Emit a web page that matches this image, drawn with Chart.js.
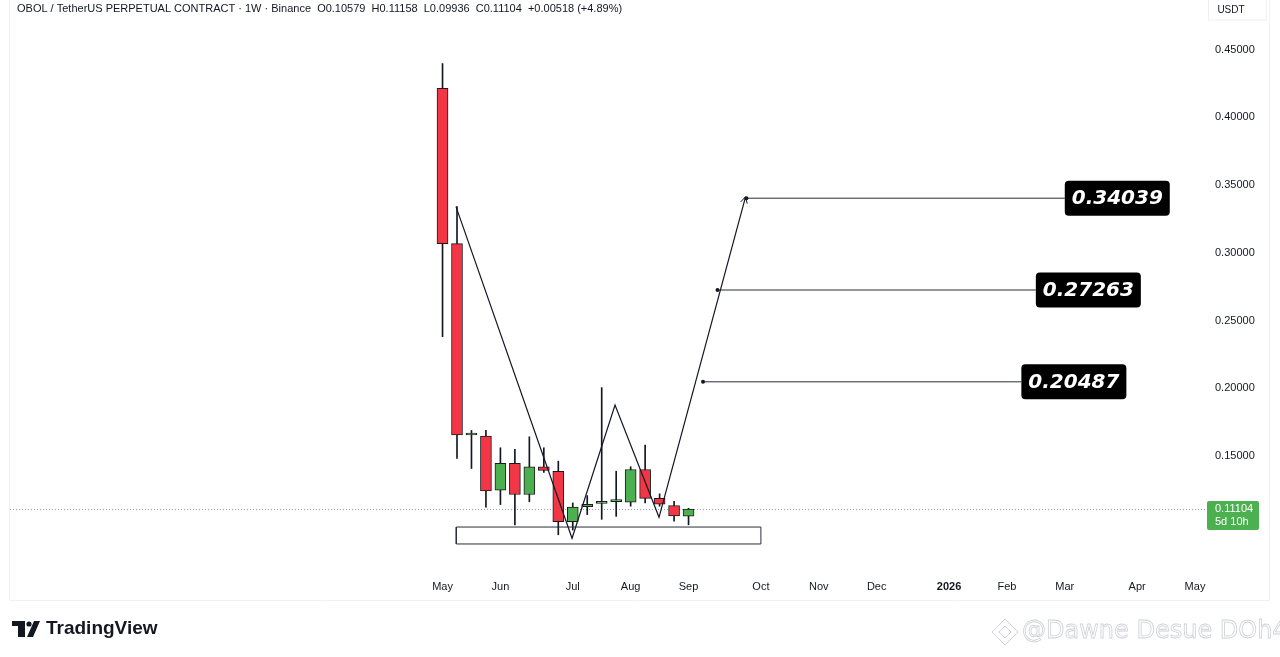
<!DOCTYPE html>
<html>
<head>
<meta charset="utf-8">
<script src="https://cdn.jsdelivr.net/npm/chart.js@4.4.0/dist/chart.umd.min.js"></script>
<style>
html, body { margin: 0; padding: 0; background: #fff; }
#wrap { width: 1280px; height: 657px; }
</style>
</head>
<body>
<div id="wrap"><canvas id="obolChart" width="1280" height="657"></canvas></div>
<script>
// weekly candles, OBOL/USDT perp (week start dates)
const weeks = ['2025-05-05', '2025-05-12', '2025-05-19', '2025-05-26', '2025-06-02', '2025-06-09',
  '2025-06-16', '2025-06-23', '2025-06-30', '2025-07-07', '2025-07-14', '2025-07-21',
  '2025-07-28', '2025-08-04', '2025-08-11', '2025-08-18', '2025-08-25', '2025-09-01'];
const opens  = [0.4214, 0.3069, 0.1656, 0.1648, 0.1250, 0.1447, 0.1217, 0.1422, 0.1389, 0.1016, 0.1128, 0.1152, 0.1165, 0.1161, 0.1402, 0.1189, 0.1136, 0.10579];
const highs  = [0.4397, 0.3342, 0.1690, 0.1690, 0.1562, 0.1550, 0.1643, 0.1562, 0.1463, 0.1155, 0.1209, 0.2006, 0.1389, 0.1422, 0.1581, 0.1222, 0.1167, 0.11158];
const lows   = [0.2382, 0.1483, 0.1409, 0.1123, 0.1143, 0.0993, 0.1164, 0.1380, 0.0920, 0.0955, 0.1069, 0.1034, 0.1056, 0.1131, 0.1155, 0.1131, 0.1020, 0.09936];
const closes = [0.3069, 0.1656, 0.1660, 0.1244, 0.1447, 0.1217, 0.1422, 0.1395, 0.1016, 0.1125, 0.1145, 0.1158, 0.1168, 0.1402, 0.1189, 0.1145, 0.1059, 0.11104];

// time axis: bar index of the first week of each month
const monthTickIdx = [0, 4, 9, 13, 17, 22, 26, 30, 35, 39, 43, 48, 52];
const monthTickLabels = ['May', 'Jun', 'Jul', 'Aug', 'Sep', 'Oct', 'Nov', 'Dec', '2026', 'Feb', 'Mar', 'Apr', 'May'];
const priceTicks = [0.15, 0.20, 0.25, 0.30, 0.35, 0.40, 0.45];

// drawings (bar index, price)
const zigzagX = [0.93, 8.95, 11.92, 14.96, 20.94];
const zigzagY = [0.3342, 0.0894, 0.1877, 0.1049, 0.3414];
const boxX = [0.95, 22];
const boxY = [0.0852, 0.0977];
const targets = [0.20487, 0.27263, 0.34039];
const targetFrom = [18, 19, 21];
const targetTo = [40, 41, 43];
const lastPrice = 0.11104;
const countdown = '5d 10h';

const UP = '#4CAF50', DOWN = '#F23645', INK = '#131722';
const FONT = 'Liberation Sans';

const candleColors = closes.map((c, i) => c >= opens[i] ? UP : DOWN);

const datasets = [
  {
    type: 'line',
    data: zigzagX.map((x, i) => ({ x: x, y: zigzagY[i] })),
    borderColor: INK, borderWidth: 1.2, pointRadius: 0, fill: false, tension: 0, order: 0
  },
  {
    type: 'line',
    data: [
      { x: boxX[0], y: boxY[0] }, { x: boxX[1], y: boxY[0] },
      { x: boxX[1], y: boxY[1] }, { x: boxX[0], y: boxY[1] }, { x: boxX[0], y: boxY[0] }
    ],
    borderColor: '#2a2e39', borderWidth: 1, pointRadius: 0, fill: false, tension: 0, order: 0
  },
  {
    type: 'bar',
    data: weeks.map((w, i) => ({ x: i, y: [lows[i], highs[i]] })),
    backgroundColor: INK, barThickness: 1, grouped: false, order: 3
  },
  {
    type: 'bar',
    data: weeks.map((w, i) => ({ x: i, y: [opens[i], closes[i]] })),
    backgroundColor: candleColors, borderColor: '#1b1b1b', borderWidth: 1,
    borderSkipped: false, barThickness: 11, minBarLength: 2, grouped: false, order: 2
  }
];
targets.forEach((t, i) => {
  datasets.push({
    type: 'line',
    data: [{ x: targetFrom[i], y: t }, { x: targetTo[i], y: t }],
    borderColor: '#2a2e39', borderWidth: 1, fill: false,
    pointRadius: [2, 0], pointBackgroundColor: INK, pointBorderWidth: 0, order: 1
  });
});

const tvDecor = {
  id: 'tvDecor',
  beforeDraw(chart) {
    const ctx = chart.ctx;
    ctx.save();
    ctx.fillStyle = '#fff';
    ctx.fillRect(0, 0, chart.width, chart.height);
    ctx.strokeStyle = '#eef0f4';
    ctx.lineWidth = 1;
    ctx.beginPath();
    ctx.moveTo(9.5, 0); ctx.lineTo(9.5, 600.5); ctx.lineTo(1269.5, 600.5); ctx.lineTo(1269.5, 0);
    ctx.stroke();
    ctx.strokeRect(1208.5, -1, 58, 21);
    ctx.restore();
  },
  beforeDatasetsDraw(chart) {
    const ctx = chart.ctx, y = Math.round(chart.scales.y.getPixelForValue(lastPrice)) + 0.5;
    ctx.save();
    ctx.strokeStyle = '#9aa0aa';
    ctx.setLineDash([1, 2]);
    ctx.lineWidth = 1;
    ctx.beginPath();
    ctx.moveTo(chart.chartArea.left, y);
    ctx.lineTo(1207, y);
    ctx.stroke();
    ctx.restore();
  },
  afterDraw(chart) {
    const ctx = chart.ctx, xs = chart.scales.x, ys = chart.scales.y;
    ctx.save();

    // header
    ctx.fillStyle = INK;
    ctx.font = '11px "' + FONT + '"';
    ctx.textBaseline = 'middle';
    ctx.textAlign = 'left';
    ctx.fillText('OBOL / TetherUS PERPETUAL CONTRACT · 1W · Binance  O0.10579  H0.11158  L0.09936  C0.11104  +0.00518 (+4.89%)', 17, 9);

    // currency
    ctx.font = '10px "' + FONT + '"';
    ctx.textAlign = 'center';
    ctx.fillText('USDT', 1231, 10);

    // last price tag
    const py = ys.getPixelForValue(lastPrice);
    ctx.fillStyle = UP;
    ctx.beginPath();
    ctx.roundRect(1207, py - 8, 52, 29, 2);
    ctx.fill();
    ctx.fillStyle = '#fff';
    ctx.font = '11px "' + FONT + '"';
    ctx.textAlign = 'left';
    ctx.fillText(lastPrice.toFixed(5), 1215, py);
    ctx.fillText(countdown, 1215, py + 13);

    // target labels
    targets.forEach((t, i) => {
      const bx = xs.getPixelForValue(targetTo[i]), by = ys.getPixelForValue(t);
      ctx.fillStyle = '#000';
      ctx.beginPath();
      ctx.roundRect(bx, by - 17.5, 105, 35, 4);
      ctx.fill();
      ctx.fillStyle = '#fff';
      ctx.font = 'italic bold 20px "DejaVu Sans"';
      ctx.textAlign = 'center';
      ctx.fillText(t.toFixed(5), bx + 52.5, by + 1);
    });

    // arrow head at zigzag end
    const n = zigzagX.length;
    const ax = xs.getPixelForValue(zigzagX[n - 1]), ay = ys.getPixelForValue(zigzagY[n - 1]);
    const bx2 = xs.getPixelForValue(zigzagX[n - 2]), by2 = ys.getPixelForValue(zigzagY[n - 2]);
    const ang = Math.atan2(ay - by2, ax - bx2);
    ctx.strokeStyle = INK;
    ctx.lineWidth = 1;
    ctx.beginPath();
    ctx.moveTo(ax - 7 * Math.cos(ang - 0.5), ay - 7 * Math.sin(ang - 0.5));
    ctx.lineTo(ax, ay);
    ctx.lineTo(ax - 7 * Math.cos(ang + 0.5), ay - 7 * Math.sin(ang + 0.5));
    ctx.stroke();

    // TradingView logo
    ctx.fillStyle = '#131722';
    ctx.fillRect(12, 621, 13, 5);
    ctx.fillRect(18, 621, 7, 16);
    ctx.beginPath();
    ctx.arc(29, 624, 2.6, 0, Math.PI * 2);
    ctx.fill();
    ctx.beginPath();
    ctx.moveTo(34, 621); ctx.lineTo(40, 621); ctx.lineTo(33, 637); ctx.lineTo(27, 637);
    ctx.closePath();
    ctx.fill();
    ctx.font = 'bold 19px "' + FONT + '"';
    ctx.textAlign = 'left';
    ctx.fillText('TradingView', 46, 629);

    // watermark
    ctx.strokeStyle = '#cfd1d6';
    ctx.lineWidth = 1;
    ctx.beginPath();
    ctx.moveTo(1005, 619); ctx.lineTo(1018, 632); ctx.lineTo(1005, 645); ctx.lineTo(992, 632); ctx.closePath();
    ctx.stroke();
    ctx.beginPath();
    ctx.moveTo(1005, 626); ctx.lineTo(1011, 632); ctx.lineTo(1005, 638); ctx.lineTo(999, 632); ctx.closePath();
    ctx.stroke();
    ctx.font = '24px "DejaVu Sans"';
    ctx.fillStyle = '#ffffff';
    ctx.fillText('@Dawne Desue DOh4', 1022, 632);
    ctx.lineWidth = 0.8;
    ctx.strokeText('@Dawne Desue DOh4', 1022, 632);
    ctx.restore();
  }
};

new Chart(document.getElementById('obolChart').getContext('2d'), {
  data: { datasets: datasets },
  options: {
    responsive: false,
    animation: false,
    layout: { padding: { left: 10, right: 10, top: 0, bottom: 57 } },
    plugins: { legend: { display: false }, tooltip: { enabled: false } },
    scales: {
      x: {
        type: 'linear',
        offset: false,
        min: -29.89,
        max: 52.69,
        afterBuildTicks: s => { s.ticks = monthTickIdx.map(v => ({ value: v })); },
        afterFit: s => { s.height = 30; s.paddingLeft = 0; s.paddingRight = 0; },
        ticks: {
          autoSkip: false, maxRotation: 0, padding: 10, color: INK,
          font: c => ({ family: FONT, size: 11, weight: monthTickLabels[c.index] === '2026' ? 'bold' : 'normal' }),
          callback: (v, i) => monthTickLabels[i]
        },
        grid: { display: false, drawTicks: false, offset: false },
        border: { display: false }
      },
      y: {
        type: 'linear',
        position: 'right',
        min: 0.0660,
        max: 0.4837,
        afterBuildTicks: s => { s.ticks = priceTicks.map(v => ({ value: v })); },
        afterFit: s => { s.width = 65; s.paddingTop = 0; s.paddingBottom = 0; },
        ticks: { padding: 10, color: INK, font: { family: FONT, size: 11 }, callback: v => v.toFixed(5) },
        grid: { display: false, drawTicks: false },
        border: { display: false }
      }
    }
  },
  plugins: [tvDecor]
});
</script>
</body>
</html>
